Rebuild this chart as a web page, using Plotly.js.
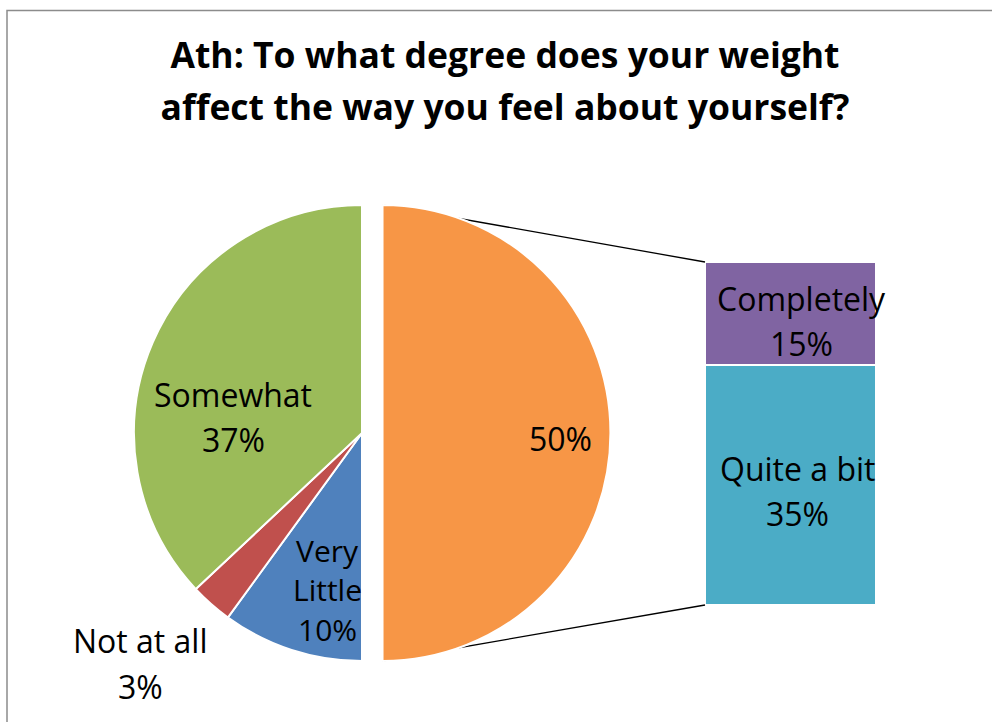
<!DOCTYPE html>
<html><head><meta charset="utf-8">
<script src="https://cdn.plot.ly/plotly-3.0.1.min.js"></script>
<style>html,body{margin:0;padding:0;background:#fff}#chart{width:992px;height:722px}</style>
</head><body><div id="chart"></div>
<script>
// ---- data ----
const pieLabels = ['Other', 'Very Little', 'Not at all', 'Somewhat'];
const pieRestValues = [10, 3, 37];          // Very Little, Not at all, Somewhat
const barLabels = ['Quite a bit', 'Completely'];
const barValues = [35, 15];
const otherValue = barValues.reduce((a, b) => a + b, 0);
const pieValues = [otherValue].concat(pieRestValues);
const pieColors = ['#F79646', '#4F81BD', '#C0504D', '#9BBB59'];
const barColors = ['#4BACC6', '#8064A2'];
const titleLines = ['Ath: To what degree does your weight', 'affect the way you feel about yourself?'];

// ---- geometry (pixels) ----
const W = 992, H = 722;
const px = v => v / W, py = v => 1 - v / H;
const pieCx = 362, pieCy = 433, pieR = 228, pull = 0.09;
const half = pieR * (1 + pull);
const barL = 705, barR = 876, barT = 262, barB = 605;

const total = pieValues.reduce((a, b) => a + b, 0);
const pct = v => Math.round(v / total * 100) + '%';

const pie = {
  type: 'pie', labels: pieLabels, values: pieValues, sort: false,
  direction: 'clockwise', rotation: 0,
  pull: pieLabels.map((l, i) => i === 0 ? pull : 0),
  marker: { colors: pieColors, line: { color: '#ffffff', width: 2 } },
  textinfo: 'none', hoverinfo: 'label+percent', showlegend: false,
  domain: { x: [px(pieCx - half), px(pieCx + half)], y: [py(pieCy + half), py(pieCy - half)] }
};

const bars = barLabels.map((l, i) => ({
  type: 'bar', name: l, x: [0], y: [barValues[i]], width: [1],
  marker: { color: barColors[i], line: { color: '#ffffff', width: 1.5 } },
  hoverinfo: 'name+y', showlegend: false
}));

// label lines: [text lines, x center px, y centers px]
const lf = { family: 'Open Sans, sans-serif', size: 32, color: '#000' };
const pieLabelSpecs = [
  { lines: [pct(pieValues[0])], x: 560, ys: [436], size: 32 },
  { lines: ['Very', 'Little', pct(pieValues[1])], x: 327, ys: [548, 587, 627], size: 30 },
  { lines: ['Not at all', pct(pieValues[2])], x: 140, ys: [638, 684], size: 32 },
  { lines: ['Somewhat', pct(pieValues[3])], x: 233, ys: [392, 437], size: 32 }
];
const barLabelSpecs = [
  { lines: [barLabels[0], pct(barValues[0])], x: 797, ys: [466, 511], size: 32 },
  { lines: [barLabels[1], pct(barValues[1])], x: 801, ys: [296, 341], size: 32 }
];
const annotations = [];
pieLabelSpecs.concat(barLabelSpecs).forEach(s => {
  s.lines.forEach((t, k) => annotations.push({
    text: t, xref: 'paper', yref: 'paper', x: px(s.x), y: py(s.ys[k] + 2),
    xanchor: 'center', yanchor: 'middle', showarrow: false,
    font: Object.assign({}, lf, { size: s.size })
  }));
});

const shapes = [
  { type: 'rect', xref: 'paper', yref: 'paper', x0: px(7), y0: py(10.5), x1: 1.2, y1: -0.2,
    line: { color: '#8c8c8c', width: 1.5 }, fillcolor: 'rgba(0,0,0,0)', layer: 'below' },
  { type: 'line', xref: 'paper', yref: 'paper', x0: px(pieCx + pull * pieR), y0: py(pieCy - pieR),
    x1: px(barL), y1: py(barT), line: { color: '#000', width: 1.3 }, layer: 'below' },
  { type: 'line', xref: 'paper', yref: 'paper', x0: px(pieCx + pull * pieR), y0: py(pieCy + pieR),
    x1: px(barL), y1: py(barB), line: { color: '#000', width: 1.3 }, layer: 'below' }
];

const layout = {
  width: W, height: H, margin: { l: 0, r: 0, t: 0, b: 0 },
  paper_bgcolor: '#fff', plot_bgcolor: 'rgba(0,0,0,0)',
  barmode: 'stack', bargap: 0,
  title: {
    text: titleLines.map(t => '<span style="font-size:35.5px">' + t + '</span>').join('<br>'),
    font: { family: 'Open Sans, sans-serif', size: 40, color: '#000', weight: 'bold' },
    x: px(505), xanchor: 'center', y: py(68), yanchor: 'middle', yref: 'container'
  },
  xaxis: { domain: [px(barL), px(barR)], range: [-0.5, 0.5], visible: false, fixedrange: true },
  yaxis: { domain: [py(barB), py(barT)], range: [0, otherValue], visible: false, fixedrange: true },
  shapes: shapes, annotations: annotations
};

Plotly.newPlot('chart', [pie].concat(bars), layout, { displayModeBar: false, staticPlot: true });
</script></body></html>
